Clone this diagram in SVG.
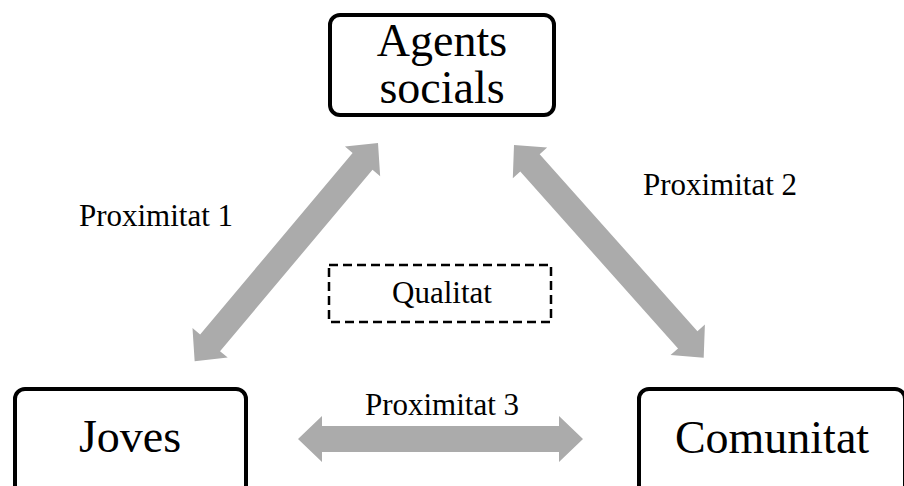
<svg xmlns="http://www.w3.org/2000/svg" width="904" height="486" viewBox="0 0 904 486">
<style>
.box{fill:#ffffff;stroke:#000000;stroke-width:4}
.dash{fill:none;stroke:#000000;stroke-width:2.5;stroke-dasharray:9,5}
.arr{fill:#ababab;stroke:none}
text{font-family:"Liberation Serif","Times New Roman",serif;fill:#000000;text-anchor:middle}
.big{font-size:46px}
.lbl{font-size:31px}
</style>
<defs>
<polygon id="dbl" points="0,0 24,-23 24,-13 261,-13 261,-23 285,0 261,23 261,13 24,13 24,23"/>
</defs>
<rect width="904" height="486" fill="#ffffff"/>
<g id="connectors">
<use href="#dbl" class="arr" transform="translate(378,143) rotate(130.04)"/>
<use href="#dbl" class="arr" transform="translate(514,145) rotate(48.27)"/>
<use href="#dbl" class="arr" transform="translate(298,439)"/>
<text class="lbl" x="156" y="226">Proximitat 1</text>
<text class="lbl" x="720" y="195">Proximitat 2</text>
<text class="lbl" x="442" y="415">Proximitat 3</text>
</g>
<g id="agents">
<rect class="box" x="330" y="15" width="224" height="100" rx="10"/>
<text class="big" x="442" y="56">Agents</text>
<text class="big" x="442" y="103">socials</text>
</g>
<g id="qualitat">
<rect class="dash" x="329" y="265" width="222" height="57"/>
<text class="lbl" x="442" y="303">Qualitat</text>
</g>
<g id="joves">
<rect class="box" x="15" y="389" width="231" height="110" rx="10"/>
<text class="big" x="130" y="452">Joves</text>
</g>
<g id="comunitat">
<rect class="box" x="639" y="389" width="266" height="110" rx="10"/>
<text class="big" x="772" y="453">Comunitat</text>
</g>
</svg>
